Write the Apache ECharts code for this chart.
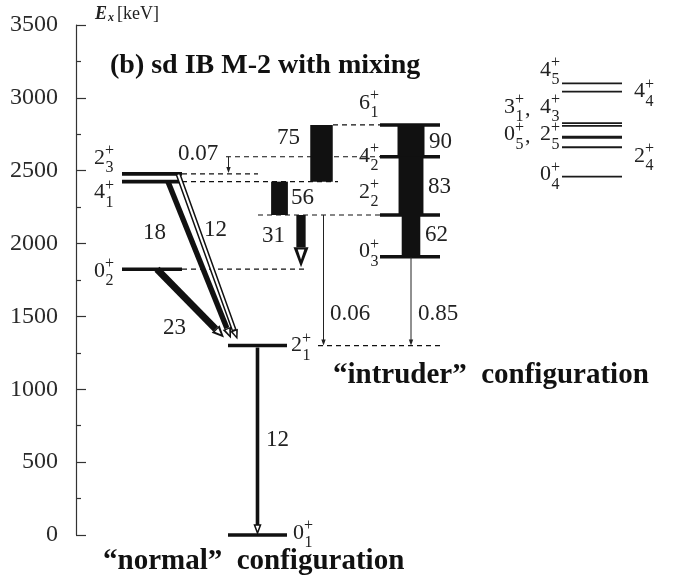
<!DOCTYPE html>
<html>
<head>
<meta charset="utf-8">
<script src="https://cdn.jsdelivr.net/npm/echarts@6/dist/echarts.min.js"></script>
<style>
  html, body { margin: 0; padding: 0; background: #fff; }
  #chart { width: 673px; height: 575px; }
</style>
</head>
<body>
<div id="chart"></div>
<script>
// Excitation energies in keV: [spin, index, energy]
const normalLevels   = [['0','1',0], ['2','1',1300], ['0','2',1824], ['4','1',2425], ['2','3',2478]];
const intruderLevels = [['0','3',1910], ['2','2',2196], ['4','2',2596], ['6','1',2814]];
const otherLevels    = [['0','4',2459], ['2','4',2661], ['2','5',2726], ['0','5',2734],
                        ['4','3',2808], ['3','1',2826], ['4','4',3043], ['4','5',3100]];

// E2 transitions: [initial level, final level, B(E2) in W.u.]
const transitions = [
  ['2_1','0_1',12], ['0_2','2_1',23], ['4_1','2_1',18], ['2_3','2_1',12],
  ['4_2','2_3',0.07], ['2_2','0_2',31], ['4_1','2_2',56], ['6_1','4_1',75],
  ['2_2','2_1',0.06], ['0_3','2_1',0.85], ['2_2','0_3',62], ['4_2','2_2',83], ['6_1','4_2',90]
];

// Axis ticks (keV)
const yMin = 0, yMax = 3500, yStep = 500;

// ---------- layout (pixel positions along x, offsets in px) ----------
const TEXT = '#222';
const SERIF = 'Liberation Serif';
const COLS = { normHi: [122, 182], normLo: [228, 287], intr: [380, 440], other: [562, 622] };
const LEVEL_COL = { '0_1':'normLo', '2_1':'normLo', '0_2':'normHi', '4_1':'normHi', '2_3':'normHi' };
const WIDTH_PER_WU = 0.3;   // strength drawn as width, px per W.u.

const LEVEL_LABELS = [
  { keys:['0_1'], side:'right', x:293, dy:-2 },
  { keys:['2_1'], side:'right', x:291, dy:0 },
  { keys:['0_2'], side:'left',  x:114, dy:2 },
  { keys:['4_1'], side:'left',  x:114, dy:11 },
  { keys:['2_3'], side:'left',  x:114, dy:-16 },
  { keys:['0_3'], side:'left',  x:379, dy:-5 },
  { keys:['2_2'], side:'left',  x:379, dy:-23 },
  { keys:['4_2'], side:'left',  x:379, dy:-1 },
  { keys:['6_1'], side:'left',  x:379, dy:-22 },
  { keys:['0_4'], side:'left',  x:560, dy:-2 },
  { keys:['0_5','2_5'], side:'left', x:560, dy:-2 },
  { keys:['3_1','4_3'], side:'left', x:560, dy:-16 },
  { keys:['4_5'], side:'left',  x:560, dy:-13 },
  { keys:['2_4'], side:'right', x:634, dy:9 },
  { keys:['4_4'], side:'right', x:634, dy:0 }
];

const DASHED = [['2_3',182,258], ['4_1',182,338], ['4_2',226,380], ['6_1',333,380],
                ['2_2',258,380], ['0_2',182,306], ['2_1',318,440]];

const T_LAYOUT = {
  '2_1>0_1': { kind:'arrow', x0:257.5, x1:257.5, gap0:2, gap1:2, head:[8,6], hollow:true, label:[266,440] },
  '0_2>2_1': { kind:'arrow', x0:157, x1:224, gap0:0, gap1:8, head:[12,11], label:[163,328] },
  '4_1>2_1': { kind:'arrow', x0:168, x1:231, gap0:0, gap1:7, head:[11,9], label:[143,233] },
  '2_3>2_1': { kind:'arrow', x0:178, x1:237.5, gap0:0, gap1:6, head:[10,8], label:[204,230], outline:true },
  '4_2>2_3': { kind:'thin', x0:228.5, gap1:1, label:[178,154] },
  '2_2>0_2': { kind:'arrow', x0:301, x1:301, gap0:0, gap1:2, head:[20,15], label:[262,236] },
  '4_1>2_2': { kind:'bar', x:279.5, label:[291,198] },
  '6_1>4_1': { kind:'bar', x:321.5, label:[277,138] },
  '2_2>2_1': { kind:'thin', x0:323.5, gap1:0, label:[330,314] },
  '0_3>2_1': { kind:'thin', x0:411, gap1:0, label:[418,314] },
  '2_2>0_3': { kind:'bar', x:411, label:[425,235] },
  '4_2>2_2': { kind:'bar', x:411, label:[428,187] },
  '6_1>4_2': { kind:'bar', x:411, label:[429,142] }
};

// ---------- helpers ----------
const energy = {};
[...normalLevels, ...intruderLevels, ...otherLevels].forEach(([j, i, e]) => { energy[j + '_' + i] = e; });
const levelParts = {};
[...normalLevels, ...intruderLevels, ...otherLevels].forEach(([j, i]) => { levelParts[j + '_' + i] = [j, i]; });

const mctx = document.createElement('canvas').getContext('2d');
function textWidth(t, font) { mctx.font = font; return mctx.measureText(t).width; }

function txt(text, x, y, font, align) {
  return { type:'text', silent:true,
    style:{ text, x, y, font, fill:TEXT, align: align || 'left', verticalAlign:'middle',
            textAlign: align || 'left', textVerticalAlign:'middle' } };
}
function seg(x1, y1, x2, y2, w, color, dash) {
  return { type:'line', silent:true, shape:{ x1, y1, x2, y2 },
    style:{ stroke: color || '#111', lineWidth: w, lineDash: dash || null } };
}
function poly(points, fill, stroke, lw) {
  return { type:'polygon', silent:true, shape:{ points },
    style:{ fill: fill, stroke: stroke || null, lineWidth: lw || 0, lineJoin:'miter' } };
}

function levelLabel(spec, cy, out) {
  const F = '22px "' + SERIF + '"', S = '16px "' + SERIF + '"';
  const pieces = []; let w = 0;
  spec.keys.forEach((k, n) => {
    const [j, i] = levelParts[k];
    if (n > 0) { pieces.push([',', F, w + 1, 2]); w += textWidth(', ', F) + 5; }
    pieces.push([j, F, w, 0]); w += textWidth(j, F);
    pieces.push(['+', S, w, -7]); pieces.push([i, S, w + 0.5, 10]);
    w += Math.max(textWidth('+', S), textWidth(i, S) + 0.5);
  });
  const x0 = spec.side === 'left' ? spec.x - w : spec.x;
  pieces.forEach(p => out.push(txt(p[0], x0 + p[2], cy + p[3], p[1])));
}

function arrowGeom(x0, y0, x1, y1, w, hl, hw) {
  const dx = x1 - x0, dy = y1 - y0, L = Math.hypot(dx, dy);
  const ux = dx / L, uy = dy / L, nx = -uy, ny = ux;
  const bx = x1 - ux * hl, by = y1 - uy * hl;
  const h = w / 2, hh = hw / 2;
  // small open notch inside the head, near its base
  const ib = [bx + ux * hl * 0.12, by + uy * hl * 0.12], ih = hw * 0.22;
  return {
    shaft: [[x0 + nx*h, y0 + ny*h], [bx + nx*h, by + ny*h], [bx - nx*h, by - ny*h], [x0 - nx*h, y0 - ny*h]],
    head:  [[bx + nx*hh, by + ny*hh], [x1, y1], [bx - nx*hh, by - ny*hh]],
    notch: [[ib[0] + nx*ih, ib[1] + ny*ih], [ib[0] + ux*hl*0.5, ib[1] + uy*hl*0.5], [ib[0] - nx*ih, ib[1] - ny*ih]]
  };
}

// ---------- drawing ----------
function renderScheme(params, api) {
  const Y = e => api.coord([0, e])[1];
  const out = [];

  // dashed connectors between bands
  DASHED.forEach(([k, xa, xb]) => out.push(seg(xa, Y(energy[k]), xb, Y(energy[k]), 1.2, '#111', [5, 4])));

  // level lines
  normalLevels.forEach(([j, i, e]) => {
    const c = COLS[LEVEL_COL[j + '_' + i]];
    out.push(seg(c[0], Y(e), c[1], Y(e), 3.6));
  });
  intruderLevels.forEach(([j, i, e]) => out.push(seg(COLS.intr[0], Y(e), COLS.intr[1], Y(e), 3.6)));
  otherLevels.forEach(([j, i, e]) => out.push(seg(COLS.other[0], Y(e), COLS.other[1], Y(e), 1.8, '#1a1a1a')));

  // transitions
  transitions.forEach(([a, b, v]) => {
    const L = T_LAYOUT[a + '>' + b];
    const ya = Y(energy[a]), yb = Y(energy[b]);
    const w = v * WIDTH_PER_WU;
    if (L.kind === 'bar') {
      out.push({ type:'rect', silent:true, shape:{ x: L.x - w / 2, y: ya, width: w, height: yb - ya },
                 style:{ fill:'#111' } });
    } else if (L.kind === 'thin') {
      const y1 = yb - L.gap1;
      out.push(seg(L.x0, ya, L.x0, y1 - 4, 1, '#222'));
      out.push(poly([[L.x0 - 2.2, y1 - 6], [L.x0, y1], [L.x0 + 2.2, y1 - 6]], '#222'));
    } else {
      const g = arrowGeom(L.x0, ya + L.gap0, L.x1, yb - L.gap1, w, L.head[0], L.head[1]);
      if (L.outline) out.push(poly(g.shaft, '#fff', '#111', 1.5));
      else out.push(poly(g.shaft, '#111'));
      if (L.hollow) {
        out.push(poly(g.head, '#fff', '#111', 1.5));
      } else {
        out.push(poly(g.head, '#111'));
        out.push(poly(g.notch, '#fff'));
      }
    }
    out.push(txt(String(v), L.label[0], L.label[1], '23px "' + SERIF + '"'));
  });

  // level labels
  LEVEL_LABELS.forEach(spec => levelLabel(spec, Y(energy[spec.keys[0]]) + spec.dy, out));

  return { type:'group', children: out };
}

const chart = echarts.init(document.getElementById('chart'), null, { renderer:'canvas' });
chart.setOption({
  animation: false,
  backgroundColor: '#fff',
  grid: { left: 76, right: 0, top: 25, bottom: 40, containLabel: false },
  xAxis: { type:'value', min:76, max:673, show:false },
  yAxis: {
    type:'value', min:yMin, max:yMax, interval:yStep,
    axisLine:{ show:true, lineStyle:{ color:'#333', width:1.2 } },
    axisTick:{ show:true, inside:true, length:10, lineStyle:{ color:'#333', width:1.2 } },
    minorTick:{ show:true, splitNumber:2, length:5, lineStyle:{ color:'#333', width:1.2 } },
    splitLine:{ show:false },
    axisLabel:{ fontFamily:SERIF, fontSize:24, color:'#2a2a2a', margin:18, formatter: v => String(v) }
  },
  series: [{
    type:'custom', coordinateSystem:'cartesian2d', silent:true, clip:false,
    data: [[76, 0]], renderItem: renderScheme
  }],
  graphic: [
    { type:'text', left:95, top:5, style:{ text:'E', font:'bold italic 18px "' + SERIF + '"', fill:TEXT } },
    { type:'text', left:108, top:12, style:{ text:'x', font:'bold italic 12px "' + SERIF + '"', fill:TEXT } },
    { type:'text', left:117, top:5, style:{ text:'[keV]', font:'18px "' + SERIF + '"', fill:TEXT } },
    { type:'text', left:110, top:52, style:{ text:'(b) sd IB M-2 with mixing', font:'bold 28px "' + SERIF + '"', fill:'#111' } },
    { type:'text', left:103, top:547, style:{ text:'\u201cnormal\u201d  configuration', font:'bold 29px "' + SERIF + '"', fill:'#111' } },
    { type:'text', left:333, top:361, style:{ text:'\u201cintruder\u201d  configuration', font:'bold 29px "' + SERIF + '"', fill:'#111' } }
  ]
});
</script>
</body>
</html>
